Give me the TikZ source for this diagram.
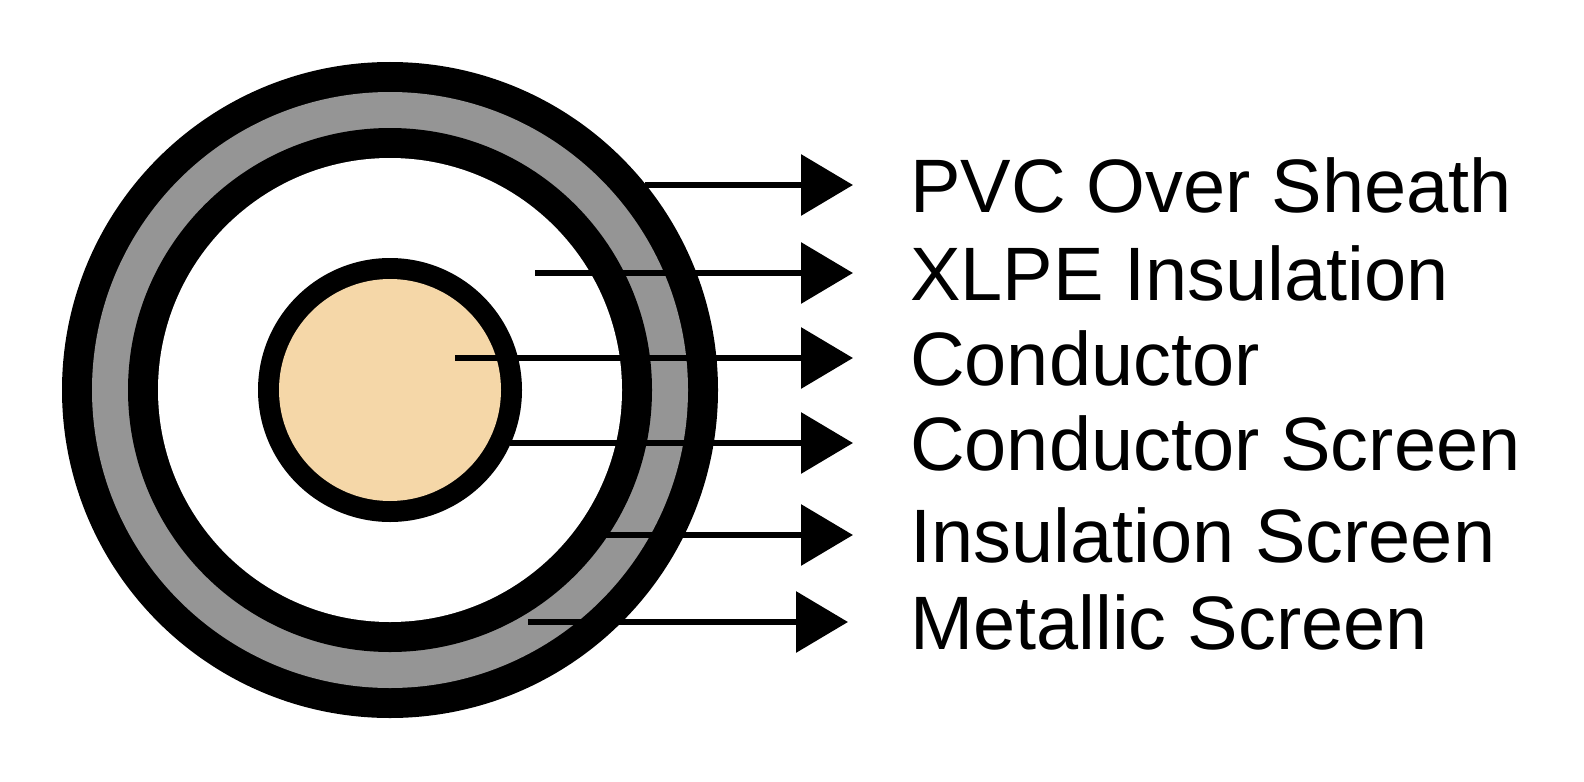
\documentclass[tikz,border=0pt]{standalone}
\usepackage{fontspec}
\setmainfont{Liberation Sans}
\usetikzlibrary{arrows.meta}
\definecolor{tan}{HTML}{F5D7A8}
\definecolor{sheath}{HTML}{959595}
\begin{document}
\begin{tikzpicture}[x=1bp,y=-1bp,
  arr/.style={line width=6.5bp,-{Triangle[length=52bp,width=60bp]}},
  lbl/.style={anchor=west,inner sep=0pt,font=\fontsize{76}{80}\selectfont}]
\useasboundingbox[fill=white] (0,0) rectangle (1584,782);
\coordinate (c) at (390,390);
\fill[black] (c) circle[radius=328];
\fill[sheath] (c) circle[radius=298];
\fill[black] (c) circle[radius=262];
\fill[white] (c) circle[radius=232];
\fill[black] (c) circle[radius=132];
\fill[tan] (c) circle[radius=111];
\foreach \n/\sx/\y/\tx/\t in {a/645/185/853/PVC Over Sheath, b/535/273/853/XLPE Insulation, d/455/358/853/Conductor, e/510/443/853/Conductor Screen, f/600/535/853/Insulation Screen, g/528/622/848/Metallic Screen}{
  \coordinate (s\n) at (\sx,\y);
  \coordinate (t\n) at (\tx,\y);
  \node[lbl] (l\n) at (910,\y) {\t};
  \draw[arr] (s\n) -- (t\n);
}
\end{tikzpicture}
\end{document}
